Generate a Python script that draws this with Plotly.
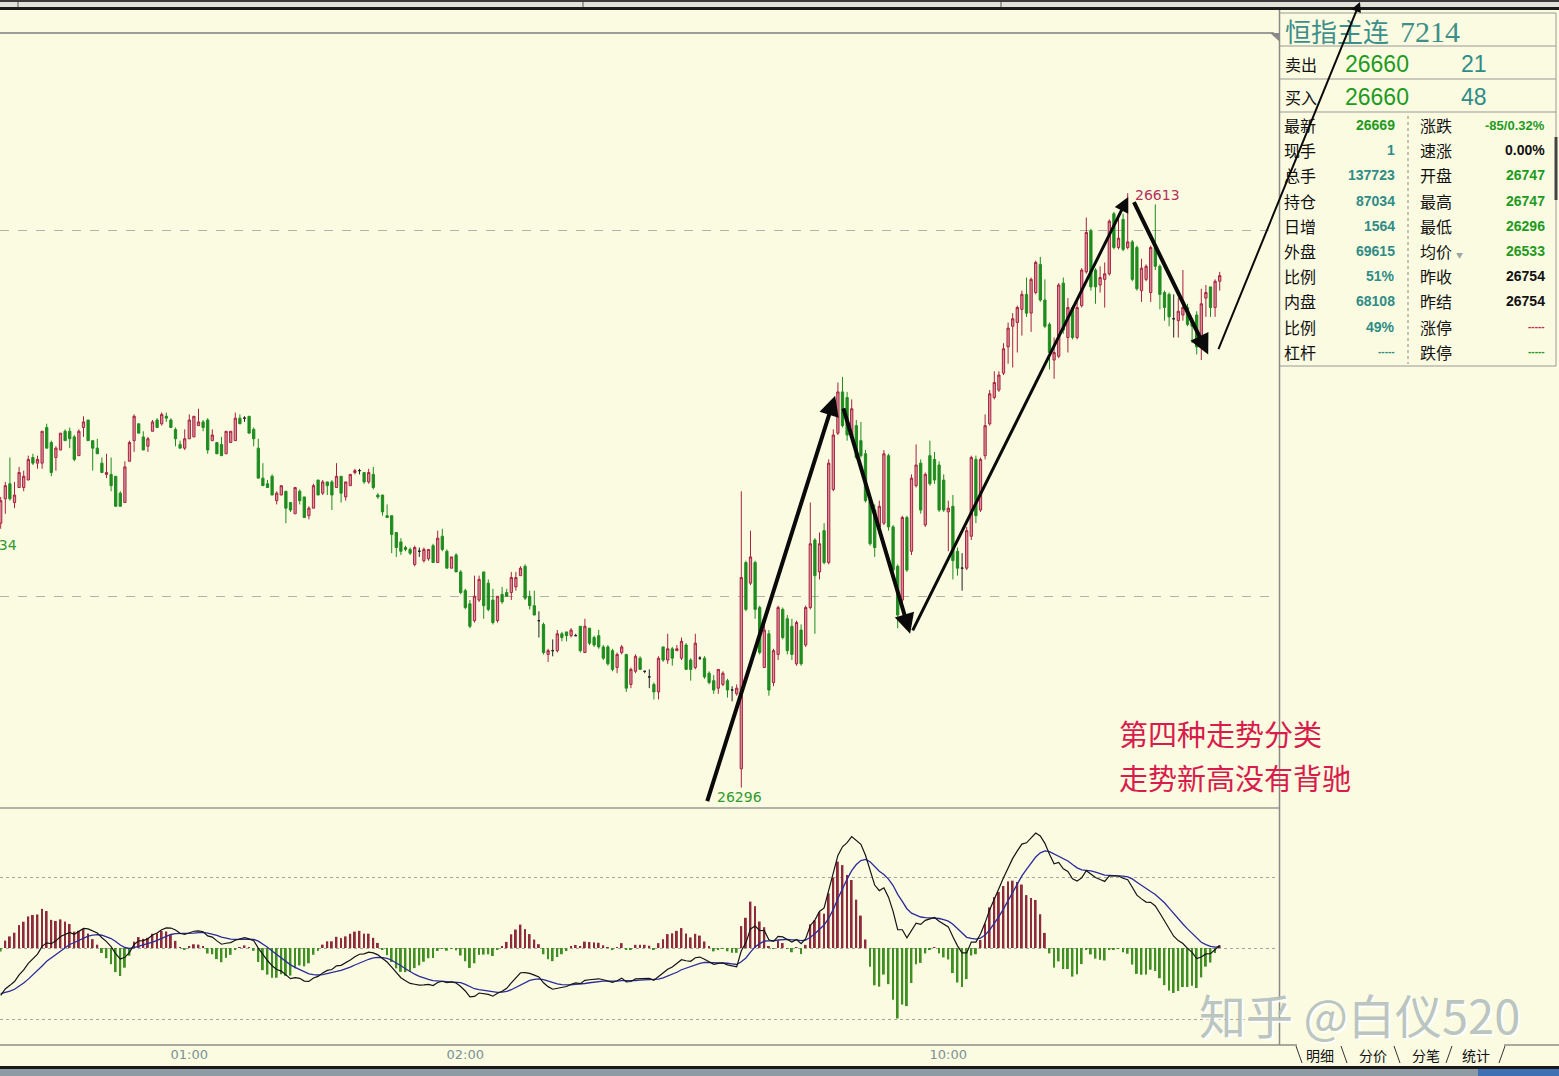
import plotly.graph_objects as go

W, H = 1559, 1076
def PX(x): return x / W
def PY(y): return 1 - y / H

BG = '#fbfbe2'
RED_LINE = '#a8223e'
RED_FILL = '#d9929f'
GREEN = '#1f8c1f'
CJK = 'Noto Sans CJK SC'

# ---------------- data (1-minute candles, night session 00:19-02:59, day 09:15-10:59) ----------------
opens = [
 26437, 26450, 26458, 26448, 26456, 26456, 26460, 26472, 26469, 26469,
 26488, 26480, 26472, 26476, 26486, 26486, 26483, 26473, 26488, 26492,
 26481, 26477, 26469, 26463, 26463, 26462, 26453, 26448, 26470, 26481,
 26490, 26483, 26478, 26486, 26492, 26490, 26494, 26492, 26487, 26479,
 26477, 26482, 26483, 26489, 26491, 26492, 26481, 26480, 26479, 26474,
 26480, 26481, 26493, 26493, 26494, 26487, 26477, 26461, 26458, 26462,
 26449, 26452, 26454, 26448, 26442, 26454, 26451, 26441, 26445, 26460,
 26453, 26459, 26459, 26456, 26462, 26451, 26457, 26464, 26465, 26464,
 26459, 26463, 26452, 26452, 26441, 26441, 26432, 26427, 26424, 26423,
 26415, 26422, 26417, 26418, 26425, 26416, 26430, 26422, 26413, 26420,
 26411, 26401, 26394, 26385, 26396, 26411, 26405, 26396, 26385, 26399,
 26400, 26400, 26403, 26409, 26414, 26398, 26393, 26385, 26383, 26367,
 26369, 26369, 26378, 26379, 26377, 26377, 26382, 26368, 26381, 26376,
 26377, 26371, 26371, 26369, 26360, 26368, 26367, 26351, 26358, 26365,
 26358, 26355, 26351, 26347, 26371, 26364, 26370, 26369, 26365, 26372,
 26364, 26360, 26365, 26365, 26357, 26353, 26349, 26351, 26353, 26348,
 26346, 26306, 26416, 26405, 26416, 26392, 26360, 26378, 26352, 26367,
 26391, 26386, 26382, 26362, 26380, 26372, 26392, 26428, 26411, 26433,
 26416, 26455, 26485, 26507, 26504, 26484, 26489, 26481, 26474, 26449,
 26444, 26435, 26437, 26473, 26435, 26414, 26396, 26440, 26422, 26457,
 26469, 26436, 26473, 26471, 26468, 26460, 26443, 26446, 26422, 26413,
 26413, 26430, 26471, 26444, 26473, 26490, 26504, 26508, 26517, 26531,
 26542, 26544, 26551, 26559, 26549, 26560, 26575, 26556, 26543, 26524,
 26526, 26565, 26536, 26552, 26536, 26553, 26571, 26593, 26572, 26564,
 26567, 26570, 26602, 26584, 26599, 26584, 26587, 26584, 26561, 26567,
 26560, 26584, 26574, 26560, 26559, 26546, 26545, 26548, 26552, 26545,
 26548, 26531, 26557, 26563, 26552, 26566,
]
highs = [
 26451, 26459, 26472, 26459, 26467, 26465, 26473, 26474, 26473, 26486,
 26490, 26481, 26478, 26485, 26487, 26488, 26484, 26487, 26494, 26492,
 26481, 26482, 26472, 26474, 26472, 26462, 26454, 26470, 26481, 26495,
 26490, 26486, 26483, 26492, 26493, 26496, 26496, 26493, 26488, 26481,
 26487, 26495, 26494, 26498, 26492, 26493, 26487, 26480, 26483, 26486,
 26486, 26496, 26495, 26494, 26494, 26488, 26482, 26469, 26460, 26463,
 26454, 26457, 26454, 26448, 26456, 26455, 26451, 26446, 26458, 26460,
 26460, 26459, 26460, 26469, 26462, 26459, 26463, 26466, 26466, 26464,
 26466, 26467, 26453, 26452, 26447, 26441, 26432, 26429, 26425, 26424,
 26425, 26424, 26424, 26423, 26426, 26433, 26434, 26423, 26419, 26421,
 26412, 26402, 26396, 26409, 26409, 26411, 26407, 26402, 26398, 26403,
 26402, 26411, 26411, 26414, 26415, 26401, 26401, 26390, 26384, 26370,
 26375, 26380, 26379, 26379, 26381, 26378, 26382, 26386, 26381, 26377,
 26380, 26372, 26372, 26370, 26368, 26372, 26367, 26360, 26367, 26366,
 26358, 26359, 26352, 26366, 26371, 26378, 26371, 26372, 26376, 26373,
 26365, 26378, 26366, 26366, 26358, 26356, 26359, 26358, 26354, 26350,
 26351, 26454, 26417, 26433, 26417, 26393, 26383, 26380, 26370, 26393,
 26392, 26388, 26386, 26385, 26383, 26393, 26448, 26429, 26432, 26437,
 26471, 26487, 26512, 26515, 26507, 26503, 26492, 26491, 26476, 26450,
 26447, 26449, 26476, 26474, 26436, 26415, 26441, 26441, 26463, 26479,
 26471, 26464, 26481, 26475, 26470, 26463, 26449, 26452, 26424, 26421,
 26435, 26473, 26473, 26472, 26495, 26508, 26518, 26518, 26533, 26544,
 26549, 26553, 26561, 26568, 26568, 26577, 26579, 26567, 26544, 26536,
 26565, 26568, 26557, 26553, 26556, 26573, 26600, 26594, 26573, 26574,
 26576, 26599, 26603, 26602, 26602, 26613, 26588, 26585, 26578, 26575,
 26585, 26607, 26575, 26561, 26560, 26559, 26557, 26572, 26554, 26546,
 26550, 26562, 26564, 26563, 26567, 26571,
]
lows = [
 26434, 26442, 26449, 26445, 26456, 26454, 26460, 26468, 26466, 26466,
 26477, 26462, 26465, 26476, 26481, 26477, 26470, 26473, 26483, 26481,
 26465, 26474, 26464, 26461, 26454, 26446, 26446, 26448, 26470, 26475,
 26485, 26476, 26475, 26486, 26488, 26489, 26491, 26488, 26478, 26477,
 26476, 26482, 26483, 26489, 26486, 26474, 26481, 26474, 26473, 26474,
 26480, 26481, 26490, 26491, 26485, 26478, 26461, 26457, 26456, 26452,
 26447, 26452, 26437, 26443, 26442, 26447, 26440, 26439, 26445, 26452,
 26452, 26452, 26444, 26456, 26448, 26449, 26457, 26463, 26463, 26458,
 26458, 26455, 26450, 26441, 26440, 26421, 26419, 26420, 26422, 26420,
 26414, 26419, 26416, 26417, 26416, 26416, 26422, 26413, 26413, 26411,
 26399, 26391, 26381, 26384, 26395, 26386, 26390, 26383, 26384, 26394,
 26398, 26396, 26401, 26409, 26396, 26391, 26388, 26376, 26367, 26363,
 26366, 26368, 26374, 26374, 26376, 26377, 26368, 26368, 26372, 26371,
 26370, 26364, 26361, 26358, 26357, 26367, 26347, 26349, 26357, 26359,
 26357, 26349, 26343, 26343, 26363, 26362, 26361, 26369, 26364, 26359,
 26353, 26359, 26364, 26354, 26351, 26346, 26346, 26350, 26344, 26342,
 26345, 26296, 26390, 26404, 26386, 26367, 26360, 26345, 26350, 26364,
 26375, 26367, 26364, 26361, 26361, 26371, 26391, 26378, 26407, 26415,
 26415, 26454, 26484, 26488, 26481, 26481, 26471, 26472, 26448, 26425,
 26419, 26431, 26436, 26433, 26409, 26381, 26393, 26411, 26420, 26456,
 26442, 26435, 26457, 26458, 26443, 26443, 26422, 26407, 26409, 26401,
 26412, 26428, 26437, 26443, 26471, 26489, 26503, 26507, 26516, 26522,
 26520, 26528, 26537, 26547, 26539, 26559, 26555, 26541, 26519, 26514,
 26525, 26538, 26528, 26535, 26535, 26552, 26570, 26561, 26554, 26560,
 26552, 26569, 26583, 26583, 26582, 26583, 26566, 26561, 26555, 26566,
 26555, 26572, 26551, 26545, 26542, 26536, 26536, 26545, 26542, 26533,
 26527, 26524, 26547, 26547, 26547, 26561,
]
closes = [
 26449, 26457, 26450, 26452, 26464, 26462, 26471, 26469, 26471, 26486,
 26477, 26464, 26477, 26485, 26481, 26482, 26471, 26486, 26491, 26481,
 26477, 26474, 26464, 26464, 26457, 26446, 26446, 26467, 26480, 26494,
 26485, 26476, 26482, 26491, 26488, 26495, 26493, 26488, 26482, 26477,
 26482, 26492, 26494, 26491, 26488, 26476, 26484, 26474, 26473, 26486,
 26486, 26493, 26490, 26493, 26485, 26482, 26461, 26457, 26456, 26452,
 26453, 26457, 26445, 26444, 26456, 26449, 26440, 26445, 26457, 26452,
 26459, 26457, 26452, 26462, 26453, 26459, 26463, 26465, 26465, 26459,
 26464, 26456, 26451, 26443, 26440, 26431, 26424, 26422, 26423, 26421,
 26424, 26422, 26423, 26423, 26416, 26429, 26423, 26413, 26419, 26411,
 26400, 26392, 26382, 26398, 26407, 26393, 26391, 26384, 26398, 26395,
 26398, 26408, 26408, 26413, 26397, 26393, 26388, 26385, 26368, 26369,
 26369, 26378, 26376, 26377, 26380, 26377, 26369, 26382, 26373, 26372,
 26371, 26365, 26362, 26359, 26367, 26371, 26349, 26359, 26366, 26359,
 26358, 26355, 26347, 26365, 26364, 26370, 26365, 26370, 26374, 26359,
 26359, 26373, 26365, 26355, 26352, 26348, 26359, 26357, 26348, 26348,
 26349, 26408, 26391, 26419, 26391, 26368, 26380, 26348, 26369, 26392,
 26376, 26369, 26367, 26384, 26362, 26392, 26426, 26409, 26426, 26416,
 26469, 26484, 26507, 26489, 26484, 26498, 26472, 26473, 26449, 26426,
 26424, 26446, 26474, 26435, 26412, 26388, 26440, 26412, 26461, 26468,
 26444, 26463, 26458, 26460, 26444, 26444, 26445, 26417, 26413, 26413,
 26433, 26472, 26441, 26471, 26489, 26506, 26512, 26516, 26530, 26541,
 26546, 26552, 26559, 26549, 26567, 26576, 26556, 26542, 26528, 26528,
 26564, 26540, 26552, 26536, 26552, 26572, 26592, 26563, 26563, 26568,
 26570, 26598, 26584, 26589, 26583, 26587, 26567, 26562, 26573, 26574,
 26584, 26574, 26559, 26552, 26547, 26546, 26550, 26552, 26543, 26542,
 26531, 26554, 26560, 26552, 26566, 26569,
]

tick_idx = [41, 101, 206]
tick_labels = ['01:00', '02:00', '10:00']

# MACD(12,26,9) state at the first visible candle
ema12_start = 26446.0
ema26_start = 26461.0
dea_start = -13.0

# quote panel
title_name = '恒指主连'
title_code = '7214'
ask_row = ('卖出', '26660', '21')
bid_row = ('买入', '26660', '48')
left_labels = ['最新', '现手', '总手', '持仓', '日增', '外盘', '比例', '内盘', '比例', '杠杆']
left_values = ['26669', '1', '137723', '87034', '1564', '69615', '51%', '68108', '49%', '-----']
right_labels = ['涨跌', '速涨', '开盘', '最高', '最低', '均价', '昨收', '昨结', '涨停', '跌停']
right_values = ['-85/0.32%', '0.00%', '26747', '26747', '26296', '26533', '26754', '26754', '-----', '-----']
tabs = ['明细', '分价', '分笔', '统计']
comment_lines = ['第四种走势分类', '走势新高没有背驰']

# ---------------- derived ----------------
n = len(closes)
idx = list(range(n))
doji = [i for i in idx if opens[i] == closes[i]]
body = [i for i in idx if opens[i] != closes[i]]

e12, e26, dea = ema12_start, ema26_start, dea_start
a12, a26, a9 = 2 / 13, 2 / 27, 2 / 10
dif_s, dea_s, hist = [], [], []
for c in closes:
    e12 += a12 * (c - e12)
    e26 += a26 * (c - e26)
    d = e12 - e26
    dea += a9 * (d - dea)
    dif_s.append(d)
    dea_s.append(dea)
    hist.append(2 * (d - dea))

M = max(dif_s)
m_hi = M * 138 / 115
m_lo = -M * 97 / 115
m_grid = M * 71 / 115

XR = [(0 - 0.7) / 4.6, (1278 - 0.7) / 4.6]
YR = [26716 - 0.5333 * 808, 26716 - 0.5333 * 33]

fig = go.Figure()
sel = lambda arr, ids: [arr[i] for i in ids]
fig.add_trace(go.Candlestick(
    x=body, open=sel(opens, body), high=sel(highs, body), low=sel(lows, body), close=sel(closes, body),
    increasing=dict(line=dict(color=RED_LINE, width=1), fillcolor=RED_FILL),
    decreasing=dict(line=dict(color=GREEN, width=1), fillcolor=GREEN),
    xaxis='x', yaxis='y', showlegend=False, hoverinfo='skip'))
fig.add_trace(go.Candlestick(
    x=doji, open=sel(opens, doji), high=sel(highs, doji), low=sel(lows, doji), close=sel(closes, doji),
    increasing=dict(line=dict(color='#222222', width=1), fillcolor='#222222'),
    decreasing=dict(line=dict(color='#222222', width=1), fillcolor='#222222'),
    xaxis='x', yaxis='y', showlegend=False, hoverinfo='skip'))

fig.add_trace(go.Bar(x=idx, y=hist, width=0.4,
                     marker=dict(color=['#8e2a3c' if h >= 0 else '#3f8f22' for h in hist], line=dict(width=0)),
                     xaxis='x2', yaxis='y2', showlegend=False, hoverinfo='skip'))
fig.add_trace(go.Scatter(x=idx, y=dea_s, mode='lines', line=dict(color='#2b2b9a', width=1.3),
                         xaxis='x2', yaxis='y2', showlegend=False, hoverinfo='skip'))
fig.add_trace(go.Scatter(x=idx, y=dif_s, mode='lines', line=dict(color='#141414', width=1.2),
                         xaxis='x2', yaxis='y2', showlegend=False, hoverinfo='skip'))

fig.update_layout(
    width=W, height=H, margin=dict(l=0, r=0, t=0, b=0),
    paper_bgcolor=BG, plot_bgcolor=BG, showlegend=False, hovermode=False,
    font=dict(family=CJK),
    xaxis=dict(domain=[0, PX(1278)], range=XR, showgrid=False, zeroline=False, showticklabels=False,
               showline=False, rangeslider=dict(visible=False), fixedrange=True),
    yaxis=dict(domain=[PY(808), PY(33)], range=YR, tickvals=[26398, 26593], showticklabels=False,
               showgrid=True, gridcolor='#b2b2a6', griddash='dash', gridwidth=1, zeroline=False, fixedrange=True),
    xaxis2=dict(domain=[0, PX(1278)], range=XR, anchor='y2', tickvals=tick_idx, ticktext=tick_labels,
                tickfont=dict(size=13, color='#7a9292', family='DejaVu Sans'), ticks='', showgrid=False,
                zeroline=False, showline=False, fixedrange=True),
    yaxis2=dict(domain=[PY(1045), PY(810)], range=[m_lo, m_hi], tickvals=[-m_grid, 0, m_grid],
                showticklabels=False, showgrid=True, gridcolor='#a6a69c', griddash='dot', gridwidth=1,
                zeroline=False, fixedrange=True),
)

shapes = []
def rect(x0, y0, x1, y1, color):
    shapes.append(dict(type='rect', xref='paper', yref='paper', x0=PX(x0), x1=PX(x1), y0=PY(y1), y1=PY(y0),
                       fillcolor=color, line=dict(width=0), layer='above'))
def line(x0, y0, x1, y1, color, width=1, dash=None):
    shapes.append(dict(type='line', xref='paper', yref='paper', x0=PX(x0), x1=PX(x1), y0=PY(y0), y1=PY(y1),
                       line=dict(color=color, width=width, dash=dash), layer='above'))

# top strip
rect(0, 0, 1559, 2, '#3a3a3a')
rect(0, 2, 1559, 7, '#e2e2da')
rect(0, 7, 1559, 10, '#1c1c1c')
for tx in (18, 583, 1001):
    line(tx, 2, tx, 7, '#555555', 1)
line(0, 33, 1274, 33, '#9c9c98', 2)
shapes.append(dict(type='path', xref='paper', yref='paper',
                   path=f'M {PX(1270)} {PY(33)} L {PX(1280)} {PY(33)} L {PX(1280)} {PY(42)} Z',
                   fillcolor='#8a8a8a', line=dict(width=0)))
# frame lines
line(1279.5, 10, 1279.5, 1045, '#8a8a86', 1.5)
line(0, 808, 1279, 808, '#9a9a96', 1.5)
line(0, 1045, 1297, 1045, '#8e8e8a', 1.5)
line(1504, 1045, 1559, 1045, '#8e8e8a', 1.5)
rect(0, 1066, 1559, 1069, '#1a1a1a')
rect(0, 1069, 1559, 1076, '#8e9aa4')
rect(1478, 1069, 1559, 1076, '#4070b4')
# quote panel frame
line(1280, 13, 1556, 13, '#9a9a96', 1)
line(1556, 13, 1556, 366, '#9a9a96', 1)
for yy in (46, 79, 112, 366):
    line(1280, yy, 1556, yy, '#9a9a96', 1.2)
line(1408, 116, 1408, 364, '#8a8a86', 1, 'dot')
line(1556, 137, 1556, 200, '#444444', 3)
# tab separators
for (xa, xb) in ((1296, 1302), (1341, 1347), (1394, 1400)):
    line(xa, 1046, xb, 1063, '#333333', 1)
for (xa, xb) in ((1452, 1446), (1505, 1499)):
    line(xa, 1046, xb, 1063, '#333333', 1)
fig.update_layout(shapes=shapes)

ann = []
def text(x, y, s, size, color, anchor='left', family=CJK, bold=False, ref='paper', shadow=None):
    f = dict(size=size, color=color, family=family)
    if bold:
        f['weight'] = 'bold'
    if shadow:
        f['shadow'] = shadow
    if ref == 'paper':
        ann.append(dict(xref='paper', yref='paper', x=PX(x), y=PY(y), text=s, showarrow=False,
                        xanchor=anchor, yanchor='middle', align='left', font=f))
    else:
        ann.append(dict(xref='x', yref='y', x=x, y=y, text=s, showarrow=False,
                        xanchor=anchor, yanchor='middle', font=f))

TEAL = '#2f8c86'
GRN = '#1f9a1f'
text(1283, 30, title_name, 26, '#3e8f8a')
text(1398, 31, title_code, 30, '#3e8f8a', family='Liberation Serif')
for (row, yy) in ((ask_row, 64), (bid_row, 97)):
    text(1283, yy, row[0], 16, '#111111')
    text(1343, yy, row[1], 23, GRN, family='Liberation Sans')
    text(1459, yy, row[2], 23, TEAL, family='Liberation Sans')
left_colors = [GRN] + [TEAL] * 9
right_colors = [GRN, '#111111', GRN, GRN, GRN, GRN, '#111111', '#111111', '#c0304e', GRN]
for k in range(10):
    yy = 125 + 25.2 * k
    text(1282, yy, left_labels[k], 16, '#111111')
    text(1397, yy, left_values[k], 14 if left_values[k] != '-----' else 10, left_colors[k], 'right',
         family='Liberation Sans', bold=True)
    text(1418, yy, right_labels[k], 16, '#111111')
    rv = right_values[k]
    text(1547, yy, rv, 13 if rv.startswith('-8') else (14 if rv != '-----' else 10), right_colors[k], 'right',
         family='Liberation Sans', bold=True)
text(1454, 255, '▼', 7, '#9aa6a6')

# price labels
text((1133 - 0.7) / 4.6, 26612, '26613', 14, '#b3325a', 'left', family='DejaVu Sans', ref='data')
text((739 - 0.7) / 4.6, 26291, '26296', 14, '#2e9a2e', 'center', family='DejaVu Sans', ref='data')
text(19, 545, '26434', 14, '#2e9a2e', 'right', family='DejaVu Sans')

# commentary
text(1117, 733, comment_lines[0], 29, '#d81c4c')
text(1117, 777, comment_lines[1], 29, '#d81c4c')

# tabs
for s, cx in zip(tabs, (1320, 1373, 1426, 1476)):
    text(cx, 1055, s, 14, '#111111', 'center')

# watermark
text(1197, 1013, '知乎 @白仪520', 47, 'rgba(178,190,186,0.9)', shadow='2px 2px 1px #ffffff')

# trend arrows (tail idx, tail price, head idx, head price, width)
arrows = [
    (153.5, 26288, 181.4, 26505, 4),
    (183.1, 26499, 197.7, 26378, 4),
    (198.1, 26379, 245.1, 26611, 3),
    (246.2, 26609, 262.5, 26527, 4),
    (264.6, 26529, 295.5, 26715, 2),
]
for (ax0, ay0, hx, hy, w) in arrows:
    ann.append(dict(xref='x', yref='y', axref='x', ayref='y', x=hx, y=hy, ax=ax0, ay=ay0, text='',
                    showarrow=True, arrowhead=2, arrowsize=1, arrowwidth=w, arrowcolor='#0a0a0a'))

fig.update_layout(annotations=ann)
fig.write_html("out.html", config={'displayModeBar': False},
               post_script="document.body.style.margin='0';document.body.style.overflow='hidden';")
